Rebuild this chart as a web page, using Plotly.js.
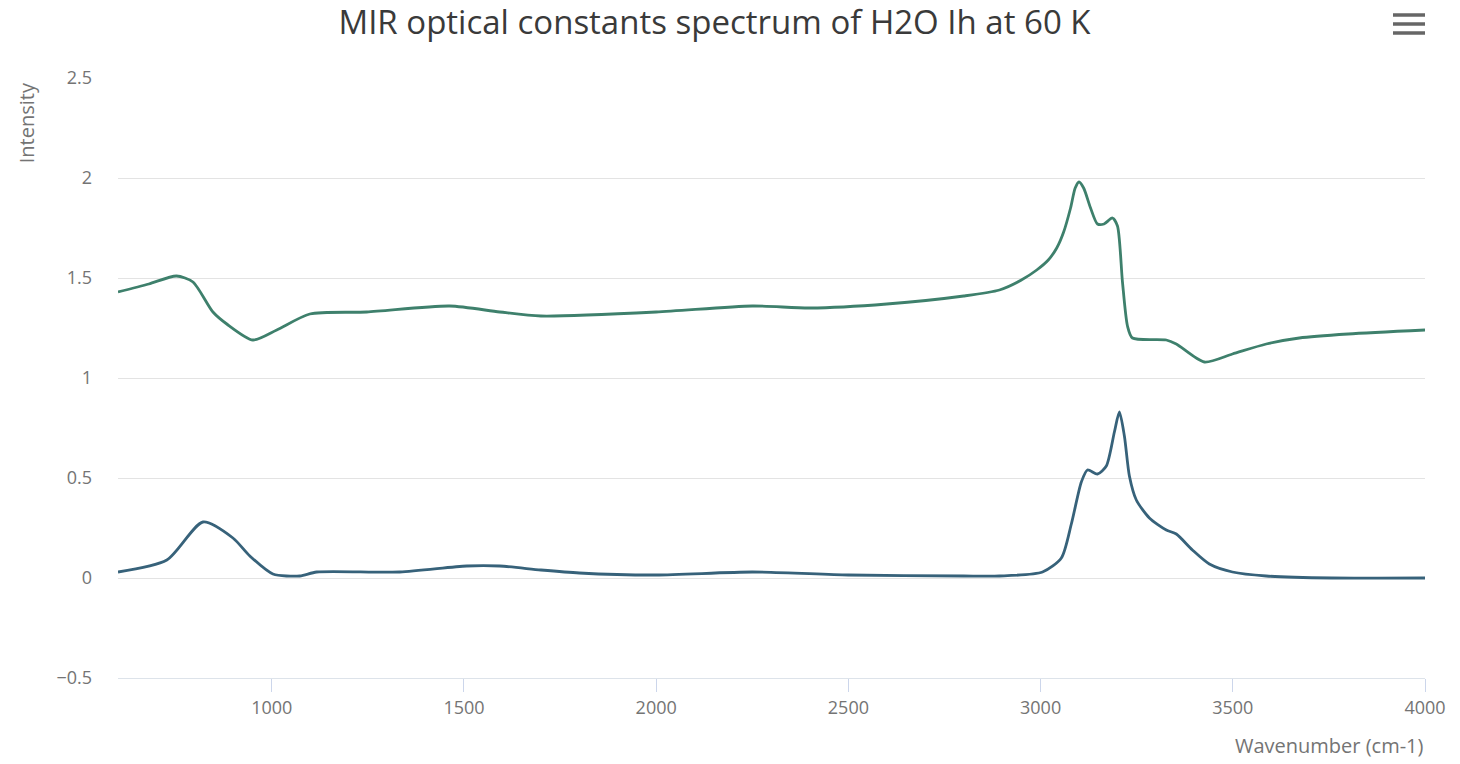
<!DOCTYPE html>
<html>
<head>
<meta charset="utf-8">
<script src="https://cdn.plot.ly/plotly-3.0.1.min.js"></script>
<style>html,body{margin:0;padding:0;background:#fff;}#chart{width:1460px;height:764px;}</style>
</head>
<body>
<div id="chart"></div>
<script>
// Real part (n) — upper curve
const nWavenumber = [600, 680, 752, 795, 847, 883, 951, 1013, 1099, 1247, 1463, 1593, 1700, 2000, 2250, 2400, 2600, 2800, 2893, 2950, 2990, 3020, 3042, 3060, 3078, 3090, 3100, 3112, 3130, 3148, 3165, 3187, 3200, 3213, 3226, 3239, 3327, 3353, 3426, 3499, 3587, 3673, 3800, 4000];
const nValues     = [1.43, 1.47, 1.51, 1.48, 1.33, 1.27, 1.19, 1.24, 1.32, 1.33, 1.36, 1.33, 1.31, 1.33, 1.36, 1.35, 1.37, 1.41, 1.44, 1.49, 1.54, 1.59, 1.65, 1.73, 1.85, 1.95, 1.98, 1.95, 1.85, 1.77, 1.77, 1.80, 1.76, 1.48, 1.26, 1.20, 1.19, 1.17, 1.08, 1.12, 1.17, 1.20, 1.22, 1.24];
// Imaginary part (k) — lower curve
const kWavenumber = [600, 727, 821, 899, 943, 1003, 1073, 1117, 1333, 1507, 1593, 1700, 1800, 2000, 2250, 2500, 2800, 2893, 3005, 3054, 3080, 3106, 3122, 3148, 3171, 3192, 3205, 3218, 3231, 3249, 3283, 3327, 3353, 3395, 3439, 3499, 3587, 3758, 4000];
const kValues     = [0.03, 0.09, 0.28, 0.20, 0.11, 0.02, 0.01, 0.03, 0.03, 0.06, 0.06, 0.04, 0.025, 0.015, 0.03, 0.015, 0.01, 0.01, 0.03, 0.10, 0.27, 0.48, 0.54, 0.52, 0.56, 0.73, 0.83, 0.71, 0.51, 0.39, 0.30, 0.24, 0.22, 0.14, 0.07, 0.03, 0.01, 0.00, 0.00];
const xTicks = [1000, 1500, 2000, 2500, 3000, 3500, 4000];
const yTicks = [-0.5, 0, 0.5, 1, 1.5, 2, 2.5];

const font = "'Open Sans', 'DejaVu Sans', sans-serif";
const labelColor = '#747474';
const traces = [
  {x: nWavenumber, y: nValues, type: 'scatter', mode: 'lines', name: 'n',
   line: {color: '#3e806c', width: 2.8, shape: 'spline', smoothing: 0.7}, hoverinfo: 'x+y'},
  {x: kWavenumber, y: kValues, type: 'scatter', mode: 'lines', name: 'k',
   line: {color: '#37627a', width: 2.8, shape: 'spline', smoothing: 0.7}, hoverinfo: 'x+y'}
];
const layout = {
  width: 1460, height: 764,
  margin: {l: 118, r: 35, t: 78, b: 86},
  paper_bgcolor: '#fff', plot_bgcolor: '#fff',
  showlegend: false,
  font: {family: font, color: labelColor},
  title: {text: 'MIR optical constants spectrum of H2O Ih at 60 K', x: 0.4894, xanchor: 'center', y: 0.971, yanchor: 'middle',
          font: {family: font, size: 33, color: '#3a3a3a'}},
  xaxis: {range: [600, 4000], tickvals: xTicks, ticktext: xTicks.map(String), showgrid: false, zeroline: false,
          showline: true, linecolor: '#dde3ea', linewidth: 1, ticks: 'outside', ticklen: 13, tickcolor: '#ccd6eb',
          tickfont: {size: 18, color: labelColor, family: font}},
  yaxis: {range: [-0.5, 2.5], tickvals: yTicks, ticktext: yTicks.map(v => v < 0 ? '\u2212' + Math.abs(v) : String(v)),
          showgrid: true, gridcolor: '#e3e3e3', gridwidth: 1, zeroline: false, showline: false, ticks: '',
          ticklabelstandoff: 25, tickfont: {size: 18, color: labelColor, family: font}},
  annotations: [
    {text: 'Intensity', xref: 'paper', yref: 'paper', x: -0.0704, y: 0.997, xanchor: 'center', yanchor: 'top', textangle: -90,
     showarrow: false, font: {size: 20, color: labelColor, family: font}},
    {text: 'Wavenumber (cm-1)', xref: 'paper', yref: 'paper', x: 1.0008, y: -0.113, xanchor: 'right', yanchor: 'middle',
     showarrow: false, font: {size: 20, color: labelColor, family: font}}
  ],
  shapes: [15, 24, 33].map(py => ({type: 'line', xref: 'paper', yref: 'paper',
     x0: (1393 - 118) / 1307, x1: (1425 - 118) / 1307, y0: (678 - py) / 600, y1: (678 - py) / 600,
     line: {color: '#666', width: 3.5}}))
};
Plotly.newPlot('chart', traces, layout, {displayModeBar: false, responsive: false});
</script>
</body>
</html>
